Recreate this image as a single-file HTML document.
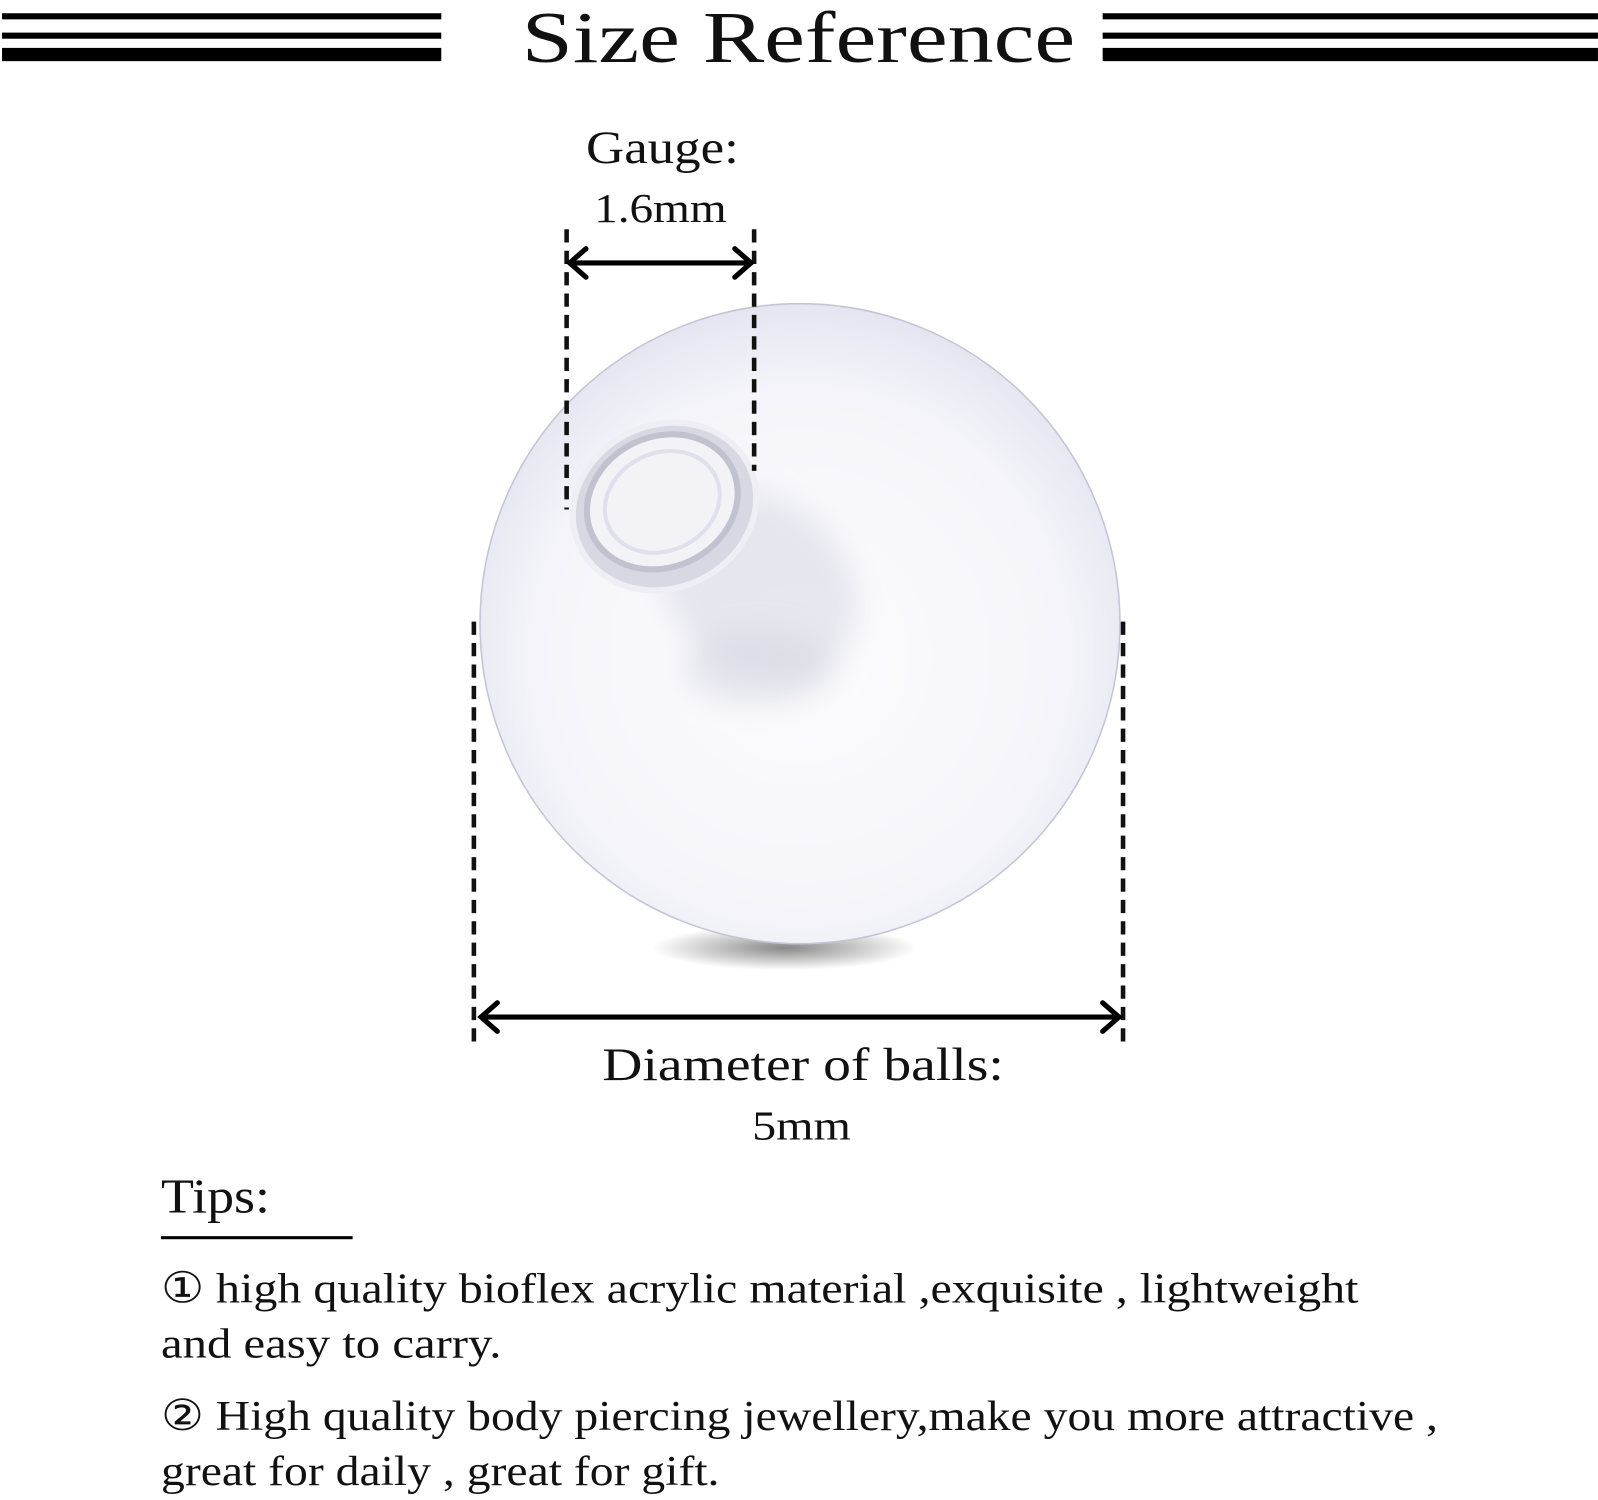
<!DOCTYPE html>
<html><head><meta charset="utf-8"><style>
html,body{margin:0;padding:0;background:#fff;}
svg{display:block;}
text{font-family:"Liberation Serif","DejaVu Serif",serif;fill:#111;}
</style></head><body>
<svg width="1598" height="1500" viewBox="0 0 1598 1500" xmlns="http://www.w3.org/2000/svg">
<defs>
<radialGradient id="ball" cx="0.5" cy="0.55" r="0.6">
<stop offset="0" stop-color="#fdfdff"/>
<stop offset="0.7" stop-color="#f4f4fa"/>
<stop offset="0.93" stop-color="#e4e4f0"/>
<stop offset="1" stop-color="#d4d4e4"/>
</radialGradient>
<radialGradient id="sh" cx="0.5" cy="0.5" r="0.5">
<stop offset="0" stop-color="#555"/>
<stop offset="1" stop-color="#555" stop-opacity="0"/>
</radialGradient>
<filter id="blur"><feGaussianBlur stdDeviation="14"/></filter>
</defs>
<rect width="1598" height="1500" fill="#fff"/>
<g transform="scale(1.0191)">
<rect x="2" y="13" width="431" height="6" fill="#000"/>
<rect x="2" y="32" width="431" height="6" fill="#000"/>
<rect x="2" y="47" width="431" height="13" fill="#000"/>
<rect x="1082" y="13" width="486" height="6" fill="#000"/>
<rect x="1082" y="32" width="486" height="6" fill="#000"/>
<rect x="1082" y="47" width="486" height="13" fill="#000"/>
<text x="512" y="61" font-size="72" textLength="543" lengthAdjust="spacingAndGlyphs">Size Reference</text>
<ellipse cx="770" cy="930" rx="130" ry="22" fill="url(#sh)" opacity="0.7"/>
<circle cx="785" cy="612" r="314" fill="url(#ball)" stroke="#c4c4d4" stroke-width="1.5"/>
<g filter="url(#blur)">
<ellipse cx="745" cy="575" rx="105" ry="85" fill="#dedee8" opacity="0.7" transform="rotate(40 745 575)"/>
<ellipse cx="745" cy="655" rx="75" ry="38" fill="#d8d8e4" opacity="0.6"/>
</g>
<g transform="rotate(-25 652 497)">
<ellipse cx="652" cy="497" rx="92" ry="80" fill="#d8d8e2"/>
<ellipse cx="652" cy="497" rx="92" ry="80" fill="none" stroke="#eeeef4" stroke-width="6"/>
<ellipse cx="652" cy="492" rx="76" ry="64" fill="#f2f2f7" stroke="#c2c2cf" stroke-width="6"/>
<ellipse cx="652" cy="492" rx="58" ry="48" fill="none" stroke="#e0e0ea" stroke-width="4"/>
</g>
<text x="575" y="160" font-size="46" textLength="150" lengthAdjust="spacingAndGlyphs">Gauge:</text>
<text x="583" y="218" font-size="40" textLength="130" lengthAdjust="spacingAndGlyphs">1.6mm</text>
<g stroke="#111" stroke-width="4.5" stroke-dasharray="13,8" fill="none">
<line x1="556" y1="225" x2="556" y2="500"/>
<line x1="740" y1="225" x2="740" y2="462"/>
<line x1="465" y1="610" x2="465" y2="1028"/>
<line x1="1102" y1="610" x2="1102" y2="1028"/>
</g>
<g stroke="#000" stroke-width="5" fill="none" stroke-linecap="round">
<line x1="559" y1="258" x2="737" y2="258"/>
<polyline points="575,244 559,258 575,272"/>
<polyline points="721,244 737,258 721,272"/>
<line x1="472" y1="998" x2="1098" y2="998"/>
<polyline points="488,984 472,998 488,1012"/>
<polyline points="1082,984 1098,998 1082,1012"/>
</g>
<text x="591" y="1060" font-size="46" textLength="394" lengthAdjust="spacingAndGlyphs">Diameter of balls:</text>
<text x="738" y="1118" font-size="40" textLength="97" lengthAdjust="spacingAndGlyphs">5mm</text>
<text x="158" y="1190" font-size="48" textLength="107" lengthAdjust="spacingAndGlyphs">Tips:</text>
<rect x="158" y="1213" width="188" height="3" fill="#000"/>
<text x="158" y="1278" font-size="42" textLength="1175" lengthAdjust="spacingAndGlyphs">① high quality bioflex acrylic material ,exquisite ,   lightweight</text>
<text x="158" y="1332" font-size="42" textLength="334" lengthAdjust="spacingAndGlyphs">and easy to carry.</text>
<text x="158" y="1403" font-size="42" textLength="1253" lengthAdjust="spacingAndGlyphs">② High quality body piercing jewellery,make you more attractive ,</text>
<text x="158" y="1457" font-size="42" textLength="548" lengthAdjust="spacingAndGlyphs">great for daily , great for gift.</text>
</g>
</svg>
</body></html>
